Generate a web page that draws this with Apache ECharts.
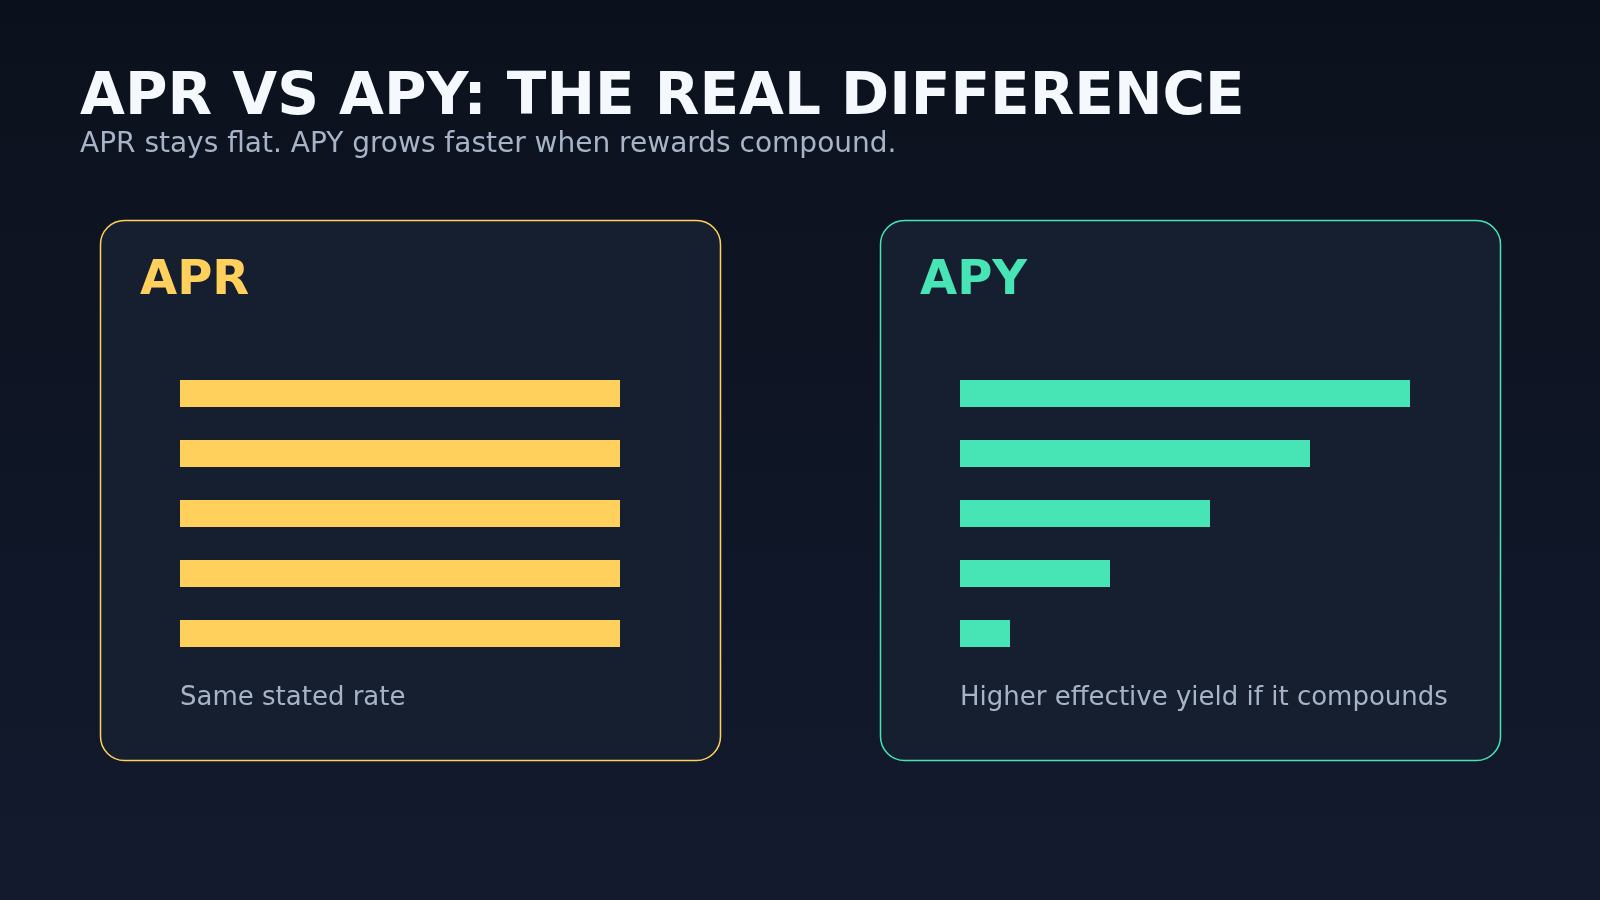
<!DOCTYPE html>
<html>
<head>
<meta charset="utf-8">
<script src="https://cdn.jsdelivr.net/npm/echarts@6/dist/echarts.min.js"></script>
<style>
html,body{margin:0;padding:0;background:#0b111c;}
#chart{width:1600px;height:900px;}
</style>
</head>
<body>
<div id="chart"></div>
<script>
// ---- data ----
const titleText = 'APR VS APY: THE REAL DIFFERENCE';
const subtitleText = 'APR stays flat. APY grows faster when rewards compound.';
const panelNames = ['APR', 'APY'];
const panelNotes = ['Same stated rate', 'Higher effective yield if it compounds'];
const periods = ['1', '2', '3', '4', '5'];
const aprValues = [88, 88, 88, 88, 88];
const apyValues = [90, 70, 50, 30, 10];
const colors = ['#FFD15C', '#47E5B6'];

// ---- layout ----
const panelX = [100, 880];
const panelY = 220, panelW = 620, panelH = 540;
const FONT = 'DejaVu Sans';

const chart = echarts.init(document.getElementById('chart'), null, {renderer: 'canvas'});

const graphics = [];
panelX.forEach((px, i) => {
  graphics.push({
    type: 'rect', z: 0,
    shape: {x: px + 0.5, y: panelY + 0.5, width: panelW, height: panelH, r: 24},
    style: {fill: '#161f2f', stroke: colors[i], lineWidth: 1.5}
  });
  graphics.push({
    type: 'text', z: 2,
    x: px + 40, y: 257.5,
    style: {text: panelNames[i], fill: colors[i], font: 'bold 48px "' + FONT + '"'}
  });
  graphics.push({
    type: 'text', z: 2,
    x: px + 80, y: 685.5,
    style: {text: panelNotes[i], fill: '#a7b4c8', font: '26px "' + FONT + '"'}
  });
});
graphics.push({
  type: 'text', z: 2, x: 80, y: 70,
  style: {text: titleText, fill: '#f5f8fc', font: 'bold 58px "' + FONT + '"'}
});
graphics.push({
  type: 'text', z: 2, x: 80, y: 131,
  style: {text: subtitleText, fill: '#a7b4c8', font: '28px "' + FONT + '"'}
});

const grids = panelX.map(px => ({left: px + 80, top: 363.5, width: 500, height: 300, containLabel: false}));

const option = {
  animation: false,
  backgroundColor: new echarts.graphic.LinearGradient(0, 0, 0, 1, [
    {offset: 0, color: '#0b111c'},
    {offset: 1, color: '#131a2e'}
  ]),
  grid: grids,
  xAxis: grids.map((g, i) => ({type: 'value', gridIndex: i, min: 0, max: 100, show: false})),
  yAxis: grids.map((g, i) => ({type: 'category', gridIndex: i, data: periods, inverse: true, show: false})),
  graphic: graphics,
  series: [
    {type: 'bar', xAxisIndex: 0, yAxisIndex: 0, data: aprValues, barWidth: 27, itemStyle: {color: colors[0]}, z: 3},
    {type: 'bar', xAxisIndex: 1, yAxisIndex: 1, data: apyValues, barWidth: 27, itemStyle: {color: colors[1]}, z: 3}
  ]
};
chart.setOption(option);
</script>
</body>
</html>
